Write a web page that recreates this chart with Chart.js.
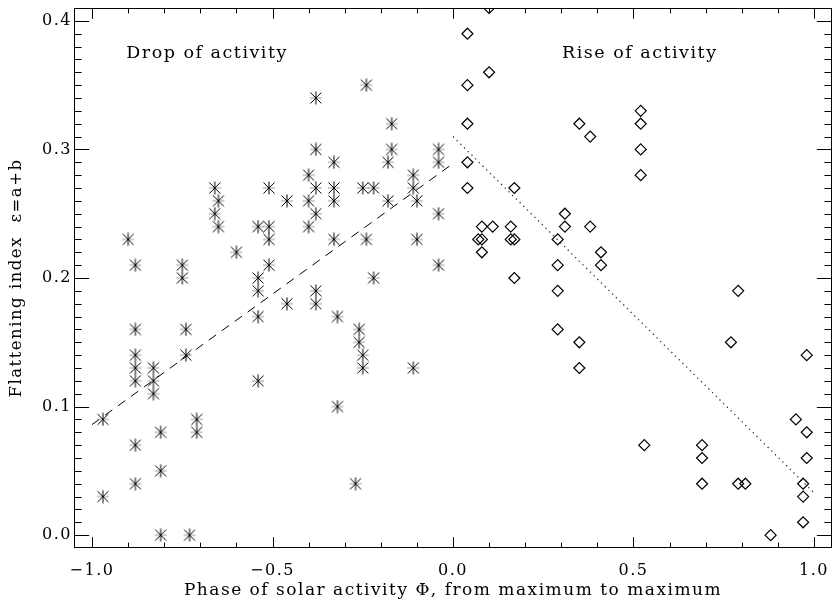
<!DOCTYPE html>
<html>
<head>
<meta charset="utf-8">
<script src="https://cdn.jsdelivr.net/npm/chart.js@4.4.1/dist/chart.umd.min.js"></script>
<style>
  html, body { margin: 0; padding: 0; background: #fff; }
  #c { display: block; }
</style>
</head>
<body>
<canvas id="c" width="833" height="605"></canvas>
<script>
"use strict";

// --- Data ----------------------------------------------------------------- //
// Drop of activity (asterisks): phase, flattening index
const dropPhase = [
  -0.97, -0.97, -0.90, -0.88, -0.88, -0.88, -0.88, -0.88, -0.88, -0.88,
  -0.83, -0.83, -0.83, -0.81, -0.81, -0.81, -0.75, -0.75, -0.74, -0.74,
  -0.73, -0.71, -0.71, -0.66, -0.65, -0.66, -0.65, -0.60, -0.54, -0.54,
  -0.54, -0.54, -0.54, -0.51, -0.51, -0.51, -0.51, -0.46, -0.46, -0.40,
  -0.40, -0.40, -0.38, -0.38, -0.38, -0.38, -0.38, -0.38, -0.33, -0.33,
  -0.33, -0.33, -0.32, -0.32, -0.27, -0.26, -0.26, -0.25, -0.25, -0.24,
  -0.24, -0.25, -0.22, -0.22, -0.17, -0.17, -0.18, -0.18, -0.11, -0.11,
  -0.11, -0.10, -0.10, -0.04, -0.04, -0.04, -0.04,
];
const dropFlat = [
  0.09, 0.03, 0.23, 0.21, 0.16, 0.14, 0.13, 0.12, 0.07, 0.04,
  0.13, 0.12, 0.11, 0.08, 0.05, 0.00, 0.21, 0.20, 0.16, 0.14,
  0.00, 0.09, 0.08, 0.27, 0.26, 0.25, 0.24, 0.22, 0.24, 0.20,
  0.19, 0.17, 0.12, 0.27, 0.24, 0.23, 0.21, 0.26, 0.18, 0.28,
  0.26, 0.24, 0.34, 0.30, 0.27, 0.25, 0.19, 0.18, 0.29, 0.27,
  0.26, 0.23, 0.17, 0.10, 0.04, 0.16, 0.15, 0.14, 0.13, 0.35,
  0.23, 0.27, 0.27, 0.20, 0.32, 0.30, 0.29, 0.26, 0.28, 0.27,
  0.13, 0.26, 0.23, 0.30, 0.29, 0.25, 0.21,
];

// Rise of activity (diamonds)
const risePhase = [
  0.04, 0.04, 0.04, 0.04, 0.04, 0.10, 0.10, 0.08, 0.11, 0.07,
  0.08, 0.08, 0.16, 0.16, 0.17, 0.17, 0.17, 0.29, 0.29, 0.29,
  0.29, 0.31, 0.31, 0.35, 0.38, 0.38, 0.35, 0.35, 0.41, 0.41,
  0.52, 0.52, 0.52, 0.52, 0.53, 0.69, 0.69, 0.69, 0.77, 0.79,
  0.79, 0.81, 0.88, 0.95, 0.98, 0.98, 0.97, 0.97, 0.97, 0.98,
];
const riseFlat = [
  0.39, 0.35, 0.32, 0.29, 0.27, 0.41, 0.36, 0.24, 0.24, 0.23,
  0.23, 0.22, 0.24, 0.23, 0.23, 0.27, 0.20, 0.23, 0.21, 0.19,
  0.16, 0.25, 0.24, 0.32, 0.31, 0.24, 0.15, 0.13, 0.22, 0.21,
  0.33, 0.32, 0.30, 0.28, 0.07, 0.07, 0.06, 0.04, 0.15, 0.19,
  0.04, 0.04, 0.00, 0.09, 0.08, 0.06, 0.04, 0.03, 0.01, 0.14,
];

// Linear fits (end points)
const dropFitPhase = [-1.0, 0.0];
const dropFitFlat = [0.086, 0.289];
const riseFitPhase = [0.0, 1.0];
const riseFitFlat = [0.310, 0.033];

// Axes
const xTicks = [-1.0, -0.5, 0.0, 0.5, 1.0];
const xTickLabels = ["\u22121.0", "\u22120.5", "0.0", "0.5", "1.0"];
const yTicks = [0.0, 0.1, 0.2, 0.3, 0.4];
const yTickLabels = ["0.0", "0.1", "0.2", "0.3", "0.4"];
const xTitle = "Phase of solar activity \u03A6, from maximum to maximum";
const yTitle = "Flattening index  \u03B5=a+b";
const dropLabel = "Drop of activity";
const riseLabel = "Rise of activity";

// --- Helpers -------------------------------------------------------------- //
const FONT = "'DejaVu Serif', 'Liberation Serif', serif";
const SPACING = "1.5px";

function pairs(xs, ys) {
  return xs.map((x, i) => ({ x, y: ys[i] }));
}

// IDL-like asterisk marker
function makeStar() {
  const c = document.createElement("canvas");
  c.width = 14; c.height = 14;
  const g = c.getContext("2d");
  const m = 7;
  g.lineWidth = 1;
  g.strokeStyle = "#999";
  g.beginPath();
  g.moveTo(m - 6, m); g.lineTo(m + 6, m);
  g.stroke();
  g.strokeStyle = "#000";
  g.beginPath();
  g.moveTo(m, m - 6.5); g.lineTo(m, m + 6.5);
  g.moveTo(m - 5.5, m - 5.5); g.lineTo(m + 5.5, m + 5.5);
  g.moveTo(m - 5.5, m + 5.5); g.lineTo(m + 5.5, m - 5.5);
  g.stroke();
  g.fillStyle = "#000";
  g.fillRect(m - 1, m - 1, 2, 2);
  return c;
}

// wide Hershey-ish letter spacing for all chart text
const spacingPlugin = {
  id: "spacing",
  beforeLayout(chart) { chart.ctx.letterSpacing = SPACING; },
  beforeDraw(chart) { chart.ctx.letterSpacing = SPACING; },
};

// frame, inward ticks on all four sides, and the two captions
const framePlugin = {
  id: "frame",
  afterDraw(chart) {
    const { ctx, chartArea: a, scales: { x, y } } = chart;
    const H = a.bottom - a.top, W = a.right - a.left;
    const xMaj = H * 0.02, xMin = xMaj / 2;
    const yMaj = W * 0.02, yMin = yMaj / 2;
    ctx.save();
    ctx.strokeStyle = "#000";
    ctx.lineWidth = 1;
    ctx.strokeRect(Math.round(a.left) + 0.5, Math.round(a.top) + 0.5,
      Math.round(W) - 1, Math.round(H) - 1);
    ctx.beginPath();
    for (let k = -10; k <= 10; k++) {
      const px = Math.round(x.getPixelForValue(k / 10)) + 0.5;
      const len = k % 5 === 0 ? xMaj : xMin;
      ctx.moveTo(px, a.bottom); ctx.lineTo(px, a.bottom - len);
      ctx.moveTo(px, a.top); ctx.lineTo(px, a.top + len);
    }
    for (let k = 0; k <= 40; k++) {
      const py = Math.round(y.getPixelForValue(k / 100)) + 0.5;
      const len = k % 10 === 0 ? yMaj : yMin;
      ctx.moveTo(a.left, py); ctx.lineTo(a.left + len, py);
      ctx.moveTo(a.right, py); ctx.lineTo(a.right - len, py);
    }
    ctx.stroke();

    ctx.letterSpacing = SPACING;
    ctx.fillStyle = "#000";
    ctx.font = "17.5px " + FONT;
    ctx.textAlign = "left";
    ctx.textBaseline = "middle";
    ctx.fillText(dropLabel, x.getPixelForValue(-0.905), y.getPixelForValue(0.375));
    ctx.fillText(riseLabel, x.getPixelForValue(0.302), y.getPixelForValue(0.375));
    ctx.restore();
  },
};

// invisible tick marks push the labels off the axis without adding layout padding
const hiddenTicks = (len) => ({
  display: true,
  drawOnChartArea: false,
  drawTicks: true,
  tickLength: len,
  tickColor: "rgba(0,0,0,0)",
  color: "rgba(0,0,0,0)",
});

// --- Chart ---------------------------------------------------------------- //
Chart.defaults.font.family = FONT;
Chart.defaults.color = "#000";

new Chart(document.getElementById("c"), {
  type: "scatter",
  data: {
    datasets: [
      {
        label: "drop",
        data: pairs(dropPhase, dropFlat),
        pointStyle: makeStar(),
        pointRadius: 6,
      },
      {
        label: "rise",
        data: pairs(risePhase, riseFlat),
        pointStyle: "rectRot",
        pointRadius: 5.5,
        borderColor: "#000",
        backgroundColor: "rgba(0,0,0,0)",
        borderWidth: 1.2,
        clip: 0,
      },
      {
        type: "line",
        label: "drop fit",
        data: pairs(dropFitPhase, dropFitFlat),
        borderColor: "#000",
        borderWidth: 1,
        borderDash: [9, 7],
        pointRadius: 0,
        fill: false,
      },
      {
        type: "line",
        label: "rise fit",
        data: pairs(riseFitPhase, riseFitFlat),
        borderColor: "#333",
        borderWidth: 1.3,
        borderDash: [1.3, 3.9],
        pointRadius: 0,
        fill: false,
      },
    ],
  },
  options: {
    responsive: false,
    animation: false,
    layout: { autoPadding: false, padding: { top: 8, right: 1, left: 0, bottom: 0 } },
    plugins: { legend: { display: false }, tooltip: { enabled: false } },
    scales: {
      x: {
        type: "linear",
        min: -1.05,
        max: 1.05,
        grid: hiddenTicks(13),
        border: { display: false },
        afterBuildTicks: (s) => { s.ticks = xTicks.map((v) => ({ value: v })); },
        afterFit: (s) => { s.height = 57; s.paddingLeft = 0; s.paddingRight = 0; },
        ticks: {
          padding: 0,
          maxRotation: 0,
          autoSkip: false,
          font: { size: 16 },
          callback: (v, i) => xTickLabels[i],
        },
        title: {
          display: true,
          text: xTitle,
          font: { size: 17 },
          padding: { top: 0, bottom: 4 },
        },
      },
      y: {
        type: "linear",
        min: -0.01,
        max: 0.41,
        grid: hiddenTicks(2),
        border: { display: false },
        afterBuildTicks: (s) => { s.ticks = yTicks.map((v) => ({ value: v })); },
        afterFit: (s) => { s.width = 74; s.paddingTop = 0; s.paddingBottom = 0; },
        ticks: {
          padding: 0,
          autoSkip: false,
          font: { size: 16 },
          callback: (v, i) => yTickLabels[i],
        },
        title: {
          display: true,
          text: yTitle,
          font: { size: 16.5 },
          padding: { top: 7, bottom: 0 },
        },
      },
    },
  },
  plugins: [spacingPlugin, framePlugin],
});
</script>
</body>
</html>
